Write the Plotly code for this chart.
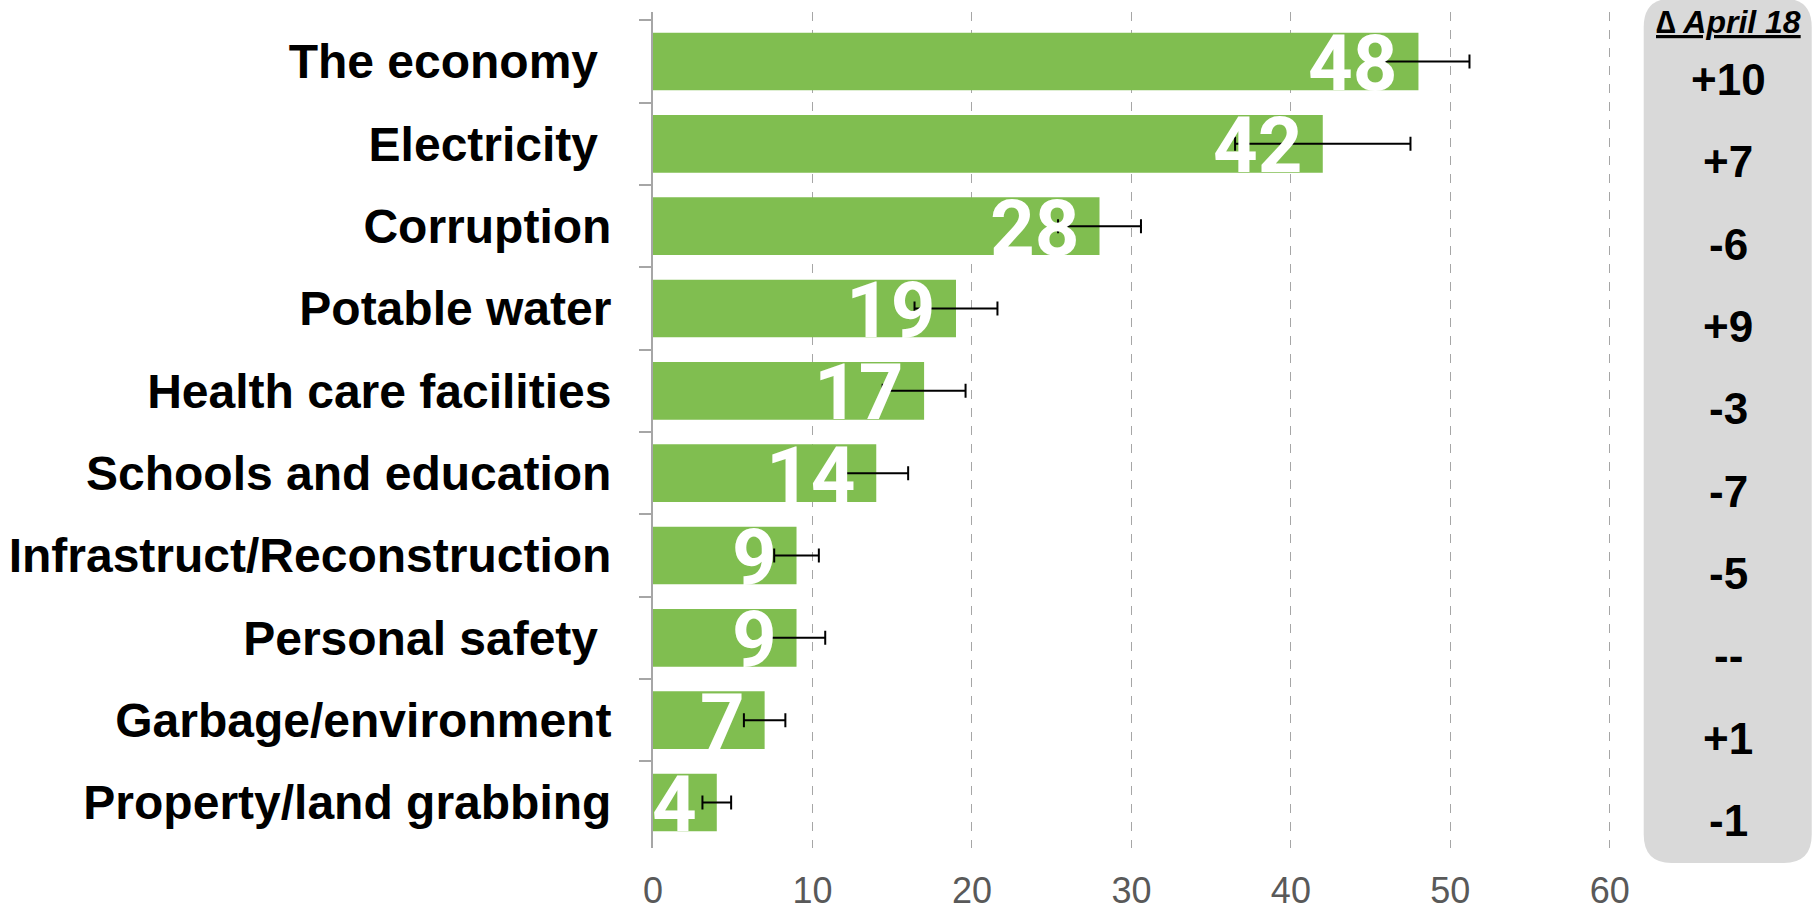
import plotly.graph_objects as go

# data
issues = ["The economy\u00a0", "Electricity\u00a0", "Corruption", "Potable water",
          "Health care facilities", "Schools and education",
          "Infrastruct/Reconstruction", "Personal safety\u00a0",
          "Garbage/environment", "Property/land grabbing"]
shares = [48, 42, 28, 19, 17, 14, 9, 9, 7, 4]
errors = [3.2, 5.5, 2.6, 2.6, 2.6, 2.0, 1.4, 1.8, 1.3, 0.9]
deltas = ["+10", "+7", "-6", "+9", "-3", "-7", "-5", "--", "+1", "-1"]
x_ticks = [0, 10, 20, 30, 40, 50, 60]

green = "#80BE50"
arial = "Liberation Sans, Arial, sans-serif"
narrow = "Roboto, Liberation Sans, sans-serif"

fig = go.Figure()

fig.add_trace(go.Bar(
    x=shares,
    y=issues,
    orientation="h",
    width=0.70,
    marker=dict(color=green, line=dict(width=0)),
    error_x=dict(type="data", array=errors, color="black", thickness=2, width=7),
    hoverinfo="x+y",
))

# big white numbers inside the bars
for issue, share in zip(issues, shares):
    fig.add_annotation(
        x=share, y=issue, xref="x", yref="y",
        text=str(share), showarrow=False,
        xanchor="right", yanchor="middle", xshift=-18, yshift=-2,
        font=dict(family=narrow, size=78, color="white", weight="bold"),
    )

# change column on the right
panel_x = 1.120
for issue, d in zip(issues, deltas):
    fig.add_annotation(
        x=panel_x, y=issue, xref="paper", yref="y",
        text=d, showarrow=False, xanchor="center", yanchor="middle", yshift=-18,
        font=dict(family=arial, size=44, color="black", weight="bold"),
    )

fig.add_annotation(
    x=panel_x, y=0.988, xref="paper", yref="paper",
    text="\u2206 April 18", showarrow=False, xanchor="center", yanchor="middle",
    font=dict(family=arial, size=32, color="black",
              weight="bold", style="italic", lineposition="under"),
)

# rounded grey panel behind the change column
x0, x1, y0, y1 = 1.032, 1.207, -0.018, 1.016
rx, ry = 0.029, 0.034
panel_path = (f"M {x0+rx},{y1} L {x1-rx},{y1} Q {x1},{y1} {x1},{y1-ry} "
              f"L {x1},{y0+ry} Q {x1},{y0} {x1-rx},{y0} L {x0+rx},{y0} "
              f"Q {x0},{y0} {x0},{y0+ry} L {x0},{y1-ry} Q {x0},{y1} {x0+rx},{y1} Z")
fig.add_shape(type="path", path=panel_path, xref="paper", yref="paper",
              fillcolor="#D9D9D9", line=dict(width=0), layer="below")

fig.update_layout(
    width=1815, height=912,
    margin=dict(l=653, r=202, t=12, b=64),
    plot_bgcolor="white", paper_bgcolor="white",
    showlegend=False,
    xaxis=dict(
        range=[0, 60.2], tickvals=x_ticks, showline=False, zeroline=False,
        showgrid=True, gridcolor="#A6A6A6", griddash="dash", gridwidth=1.3,
        ticks="", ticklabelstandoff=18, automargin=False,
        tickfont=dict(family=arial, size=36, color="#595959"),
    ),
    yaxis=dict(
        categoryorder="array", categoryarray=issues, autorange="reversed",
        showline=True, linecolor="#A6A6A6", linewidth=2,
        ticks="outside", tickson="boundaries", ticklen=12, tickcolor="#A6A6A6", tickwidth=2,
        ticklabelstandoff=30, showgrid=False, automargin=False,
        tickfont=dict(family=arial, size=48, color="black", weight="bold"),
    ),
)

fig.write_html("out.html", config={"displayModeBar": False},
               post_script="document.body.style.margin='0';")
